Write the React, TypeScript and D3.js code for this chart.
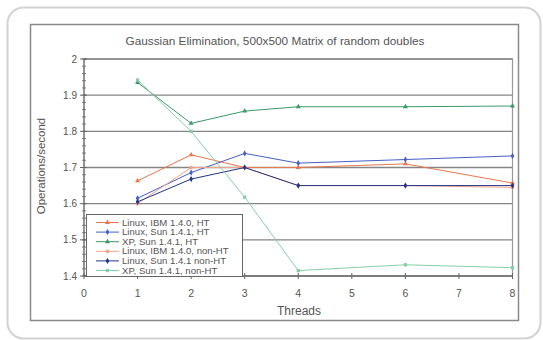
import React from "react";
import * as d3 from "d3";

const threads = [1, 2, 3, 4, 6, 8];
const seriesNames = [
  "Linux, IBM 1.4.0, HT",
  "Linux, Sun 1.4.1, HT",
  "XP, Sun 1.4.1, HT",
  "Linux, IBM 1.4.0, non-HT",
  "Linux, Sun 1.4.1 non-HT",
  "XP, Sun 1.4.1, non-HT",
];
const ibmHT = [1.663, 1.735, 1.7, 1.7, 1.71, 1.657];
const sunHT = [1.615, 1.686, 1.739, 1.712, 1.722, 1.732];
const xpHT = [1.935, 1.822, 1.856, 1.868, 1.868, 1.87];
const ibmNonHT = [1.6, 1.7, 1.7, 1.65, 1.65, 1.645];
const sunNonHT = [1.605, 1.668, 1.7, 1.65, 1.65, 1.65];
const xpNonHT = [1.942, 1.8, 1.618, 1.415, 1.431, 1.423];
const yTicks = [1.4, 1.5, 1.6, 1.7, 1.8, 1.9, 2];
const xTicks = [0, 1, 2, 3, 4, 5, 6, 7, 8];
const title = "Gaussian Elimination, 500x500 Matrix of random doubles";

const colors = ["#e8784e", "#4560c4", "#3c9a68", "#f2a488", "#243488", "#86cfa8"];
const symbols = [d3.symbolTriangle, d3.symbolDiamond, d3.symbolTriangle, d3.symbolCircle, d3.symbolDiamond, d3.symbolSquare];

export default function App() {
  const W = 543, H = 340;
  const x = d3.scaleLinear().domain([0, 8]).range([84, 512.5]);
  const y = d3.scaleLinear().domain([1.4, 2]).range([276, 59]);
  const data = [ibmHT, sunHT, xpHT, ibmNonHT, sunNonHT, xpNonHT];
  const line = d3.line<number>().x((_, i) => x(threads[i])).y((d) => y(d));
  const minor = d3.range(1.4, 2.0001, 0.02);
  const font = "'Liberation Sans', Arial, sans-serif";
  const legX = 86, legY = 214, legW = 156, legH = 62;
  const txt = "#555";

  return (
    <svg width={W} height={H} style={{ position: "absolute", left: 0, top: 0, background: "#fff" }} fontFamily={font}>
      <rect x={7.5} y={7.5} width={533} height={331} rx={16} fill="#fff" stroke="#d2d2d2" strokeWidth={2} />
      <rect x={30.5} y={24.5} width={488} height={296} fill="#fff" stroke="#8a8a8a" strokeWidth={1.5} />
      <text x={275} y={45} textAnchor="middle" fontSize={11.8} fill={txt}>{title}</text>

      {/* plot area */}
      <rect x={x(0)} y={y(2)} width={x(8) - x(0)} height={y(1.4) - y(2)} fill="#fff" stroke="#999" strokeWidth={1.2} />
      {yTicks.map((t) => (
        <line key={t} x1={x(0)} x2={x(8)} y1={y(t)} y2={y(t)} stroke="#858585" strokeWidth={1.3} />
      ))}

      {/* y axis */}
      <line x1={x(0)} x2={x(0)} y1={y(2)} y2={y(1.4)} stroke="#666" />
      {minor.map((t, i) => (
        <line key={i} x1={x(0) - 2} x2={x(0) + 2} y1={y(t)} y2={y(t)} stroke="#666" strokeWidth={0.8} />
      ))}
      {yTicks.map((t) => (
        <g key={t}>
          <line x1={x(0) - 4} x2={x(0) + 3} y1={y(t)} y2={y(t)} stroke="#666" />
          <text x={77} y={y(t) + 3.5} textAnchor="end" fontSize={10} fill={txt}>{d3.format("")(t)}</text>
        </g>
      ))}
      <text transform={`translate(45,166) rotate(-90)`} textAnchor="middle" fontSize={11.5} fill={txt}>Operations/second</text>

      {/* x axis */}
      <line x1={x(0)} x2={x(8)} y1={y(1.4)} y2={y(1.4)} stroke="#666" />
      {xTicks.map((t) => (
        <g key={t}>
          <line x1={x(t)} x2={x(t)} y1={y(1.4) - 3} y2={y(1.4) + 3} stroke="#666" />
          <text x={x(t)} y={y(1.4) + 21} textAnchor="middle" fontSize={10.5} fill={txt}>{t}</text>
        </g>
      ))}
      <text x={299} y={315} textAnchor="middle" fontSize={12} fill={txt}>Threads</text>

      {/* series */}
      {data.map((s, si) => (
        <g key={si}>
          <path d={line(s) || ""} fill="none" stroke={colors[si]} strokeWidth={1} />
          {s.map((v, i) => (
            <path key={i} transform={`translate(${x(threads[i])},${y(v)})`} d={d3.symbol(symbols[si], 11)() || ""} fill={colors[si]} />
          ))}
        </g>
      ))}

      {/* legend */}
      <rect x={legX + 0.5} y={legY + 0.5} width={legW} height={legH} fill="#fff" stroke="#666" strokeWidth={1} />
      {seriesNames.map((n, i) => {
        const ly = legY + 8.5 + i * 9.6;
        return (
          <g key={n}>
            <line x1={96} x2={119} y1={ly} y2={ly} stroke={colors[i]} strokeWidth={1} />
            <path transform={`translate(107.5,${ly})`} d={d3.symbol(symbols[i], 11)() || ""} fill={colors[i]} />
            <text x={122} y={ly + 3} fontSize={9.6} fill={txt}>{n}</text>
          </g>
        );
      })}
    </svg>
  );
}
